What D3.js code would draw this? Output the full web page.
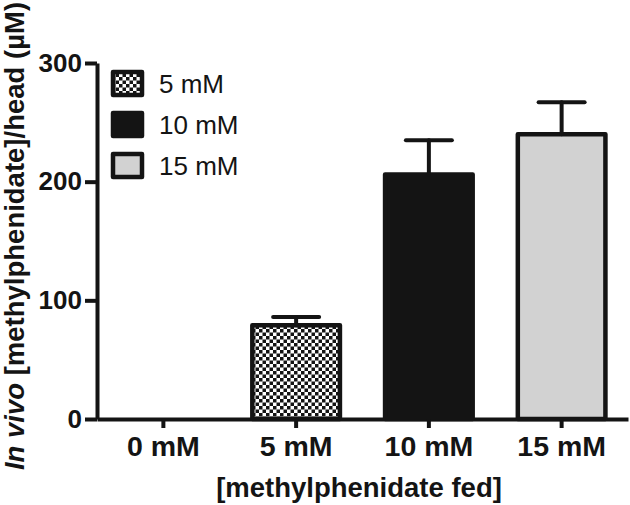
<!DOCTYPE html>
<html>
<head>
<meta charset="utf-8">
<script src="https://cdn.jsdelivr.net/npm/d3@7"></script>
<style>
  html, body { margin: 0; padding: 0; background: #fff; }
  svg { display: block; font-family: "Liberation Sans", Arial, sans-serif; }
</style>
</head>
<body>
<svg id="chart" width="630" height="505"></svg>
<script>
const categories = ["0 mM", "5 mM", "10 mM", "15 mM"];
const means = [0, 79, 206, 240];
const errors = [0, 7, 29, 27];
const legendLabels = ["5 mM", "10 mM", "15 mM"];
const yTicks = [0, 100, 200, 300];
const xTitle = "[methylphenidate fed]";

const fills = {"0 mM": "none", "5 mM": "url(#checker)", "10 mM": "#141414", "15 mM": "#d2d2d2"};
const ink = "#141414";

const svg = d3.select("#chart");
const defs = svg.append("defs");
const pat = defs.append("pattern").attr("id", "checker")
  .attr("patternUnits", "userSpaceOnUse").attr("width", 7).attr("height", 7);
pat.append("rect").attr("width", 7).attr("height", 7).attr("fill", "#fff");
pat.append("rect").attr("width", 3.5).attr("height", 3.5).attr("fill", ink);
pat.append("rect").attr("x", 3.5).attr("y", 3.5).attr("width", 3.5).attr("height", 3.5).attr("fill", ink);

const x = d3.scaleBand().domain(categories).range([97, 628]).paddingInner(0.34).paddingOuter(0.17);
const y = d3.scaleLinear().domain([0, 300]).range([419, 63]);

const data = categories.map((c, i) => ({c, v: means[i], e: errors[i]}));

// bars
const bars = data.filter(d => d.v > 0);
svg.append("g").selectAll("rect").data(bars).join("rect")
  .attr("x", d => x(d.c))
  .attr("y", d => y(d.v))
  .attr("width", x.bandwidth())
  .attr("height", d => y(0) - y(d.v))
  .attr("fill", d => fills[d.c])
  .attr("stroke", ink).attr("stroke-width", 4.5).attr("stroke-linejoin", "round");

// error bars
const eb = svg.append("g").attr("stroke", ink).attr("stroke-width", 4).attr("stroke-linecap", "round");
bars.forEach(d => {
  const cx = x(d.c) + x.bandwidth() / 2;
  eb.append("line").attr("x1", cx).attr("x2", cx).attr("y1", y(d.v)).attr("y2", y(d.v + d.e));
  eb.append("line").attr("x1", cx - 23).attr("x2", cx + 23).attr("y1", y(d.v + d.e)).attr("y2", y(d.v + d.e));
});

// y axis
const yAxis = svg.append("g").attr("transform", "translate(97,0)")
  .call(d3.axisLeft(y).tickValues(yTicks).tickSize(12).tickPadding(3).tickSizeOuter(0));
yAxis.select(".domain").attr("stroke", ink).attr("stroke-width", 4);
yAxis.selectAll(".tick line").attr("stroke", ink).attr("stroke-width", 4);
yAxis.selectAll(".tick text").attr("fill", ink).attr("font-size", 26).attr("font-weight", "bold")
  .attr("font-family", "Liberation Sans, Arial, sans-serif");

// x axis
const xAxis = svg.append("g").attr("transform", "translate(0,419)")
  .call(d3.axisBottom(x).tickSize(9).tickPadding(8).tickSizeOuter(0));
xAxis.select(".domain").attr("stroke", ink).attr("stroke-width", 4);
xAxis.selectAll(".tick line").attr("stroke", ink).attr("stroke-width", 4);
xAxis.selectAll(".tick text").attr("fill", ink).attr("font-size", 28.5).attr("font-weight", "bold")
  .attr("font-family", "Liberation Sans, Arial, sans-serif");

// x title
svg.append("text").attr("x", 359).attr("y", 497).attr("text-anchor", "middle")
  .attr("font-size", 27.5).attr("font-weight", "bold").attr("fill", ink).text(xTitle);

// y title
const yt = svg.append("text").attr("transform", "translate(24,236) rotate(-90)")
  .attr("text-anchor", "middle").attr("font-size", 27.5).attr("font-weight", "bold").attr("fill", ink);
yt.append("tspan").attr("font-style", "italic").text("In vivo");
yt.append("tspan").text(" [methylphenidate]/head (\u00B5M)");

// legend
const leg = svg.append("g");
legendLabels.forEach((lab, i) => {
  const cy = 83.5 + i * 41;
  leg.append("rect").attr("x", 113).attr("y", cy - 11.5).attr("width", 29).attr("height", 23)
    .attr("fill", fills[lab]).attr("stroke", ink).attr("stroke-width", 4.5).attr("stroke-linejoin", "round");
  leg.append("text").attr("x", 159).attr("y", cy + 9.5).attr("font-size", 26).attr("fill", ink).text(lab);
});
</script>
</body>
</html>
